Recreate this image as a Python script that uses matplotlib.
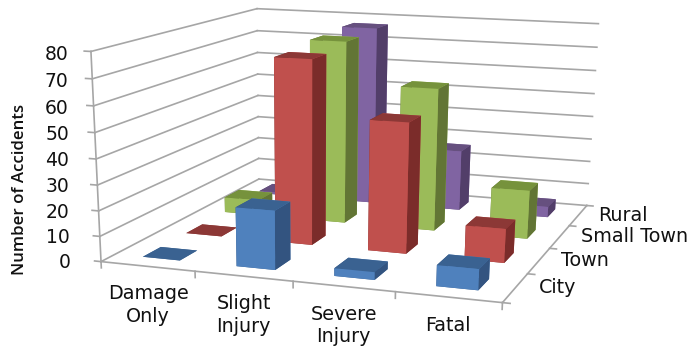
#!/usr/bin/env python3
# -*- coding: utf-8 -*-
"""3D bar chart of accident counts by severity and area type."""

import matplotlib
matplotlib.use('Agg')
import matplotlib.pyplot as plt

severity = ['Damage\nOnly', 'Slight\nInjury', 'Severe\nInjury', 'Fatal']
areas = ['City', 'Town', 'Small Town', 'Rural']
z_ticks = [0, 10, 20, 30, 40, 50, 60, 70, 80]

city = [0, 23, 3, 8]
town = [0, 74, 52, 13.5]
small_town = [6.5, 76, 59, 20]
rural = [1, 77, 26, 4.5]

# front, top, side colour of each series
front_colors = ['#4F81BD', '#C0504D', '#9BBB59', '#8064A2']
top_colors = ['#3A6291', '#8C3836', '#76923C', '#66507F']
side_colors = ['#335480', '#7B2C2A', '#627535', '#523E69']

grid_color = '#A6A6A6'
text_color = '#111111'
font = 'DejaVu Sans'
fontsizes = {'L': 13.5, 'M': 13.8}
bar_w = 0.40

W, H = 695, 350
# the 3D axes are wider than they are tall, pixels
Sx, Sy = 594.9, 444.2
left, bottom = 57.9, -14.2

fig = plt.figure(figsize=(W/100, H/100), dpi=100)
ax = fig.add_axes([left/W, bottom/H, Sx/W, Sy/H], projection='3d', computed_zorder=False)
ax.apply_aspect = lambda position=None: None  # keep the stretched box
ax.set_proj_type('persp', focal_length=0.479)
ax.view_init(elev=14.5, azim=-71.4, roll=-0.53)
ax.set_box_aspect((308, 308, 213.4))
ax.set_xlim(0, 4)
ax.set_ylim(0, 4)
ax.set_zlim(0, 80)
ax.set_xticks([])
ax.set_yticks([])
ax.set_zticks([])
ax.set_axis_off()

# walls
for z in z_ticks:
    ax.plot([0, 0], [0, 4], [z, z], color=grid_color, lw=1.2, zorder=1)
    ax.plot([0, 4], [4, 4], [z, z], color=grid_color, lw=1.2, zorder=1)
    ax.plot([-0.07, 0], [0, 0], [z, z], color=grid_color, lw=1.2, zorder=1)
    # the axis leans left with height, the labels stay in a straight column
    ax.text(-0.34 + 0.1*z/80, 0, z - 1.5, str(z), ha='right', va='center', family=font,
            fontsize=fontsizes['L'], color=text_color)
ax.plot([0, 0], [0, 0], [0, 80], color=grid_color, lw=1.2, zorder=1)

# floor edges
ax.plot([0, 4], [0, 0], [0, 0], color=grid_color, lw=1.2, zorder=1)
ax.plot([4, 4], [0, 4], [0, 0], color=grid_color, lw=1.2, zorder=1)
for i in range(5):
    ax.plot([i, i], [0, 0], [0, -2.5], color=grid_color, lw=1.2, zorder=1)
    ax.plot([4, 4.07], [i, i], [0, 0], color=grid_color, lw=1.2, zorder=1)

# bars, back row first so nearer ones paint over them
series = [city, town, small_town, rural]
order = 2
for j in [3, 2, 1, 0]:
    for i in range(4):
        faces = [top_colors[j], top_colors[j], front_colors[j],
                 front_colors[j], side_colors[j], side_colors[j]]
        ax.bar3d(i + 0.5 - bar_w/2, j + 0.5 - bar_w/2, 0, bar_w, bar_w,
                 max(series[j][i], 0.01), color=faces, shade=False,
                 linewidth=0, zorder=order)
        order += 1

for i, label in enumerate(severity):
    ax.text(i + 0.5, 0, -7, label, ha='center', va='top', family=font,
            fontsize=fontsizes['M'], color=text_color, linespacing=1.25)
for j, label in enumerate(areas):
    ax.text(4.22, j + 0.5, 0.8, label, ha='left', va='center', family=font,
            fontsize=fontsizes['M'], color=text_color)

fig.text(20/W, 1 - 189/H, 'Number of Accidents', rotation=90, ha='center', va='center',
         family='Open Sans', fontsize=12.2, fontweight='semibold', color=text_color)

plt.savefig('out.png', facecolor='white', dpi=100)
plt.close()
